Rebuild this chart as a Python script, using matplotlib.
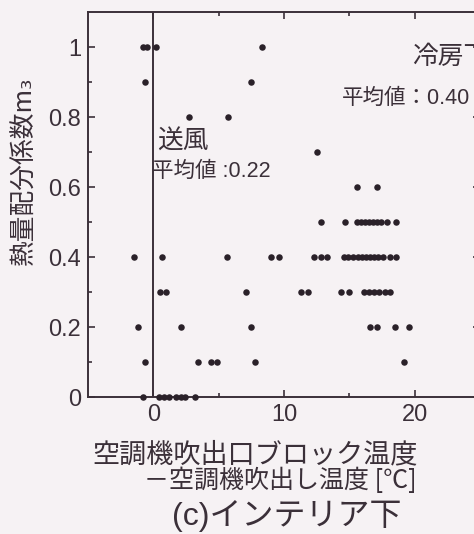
import matplotlib.pyplot as plt
import numpy as np

# temperature difference [°C] and heat distribution coefficient m3
x_10 = [-0.8, -0.5, 0.2, 8.3]
x_09 = [-0.6, 7.5]
x_08 = [2.7, 5.7]
x_07 = [12.5]
x_06 = [15.6, 17.1]
x_05 = [12.8, 14.7, 15.6, 15.9, 16.2, 16.5, 16.8, 17.1, 17.4, 17.9, 18.6]
x_04 = [-1.5, 0.7, 5.6, 9.0, 9.6, 12.3, 12.8, 13.3, 14.6, 14.9, 15.3, 15.7, 16.0,
        16.3, 16.6, 16.9, 17.2, 17.6, 18.1, 18.6]
x_03 = [0.5, 1.0, 7.1, 11.3, 11.8, 14.4, 15.0, 16.1, 16.5, 16.9, 17.3, 17.7, 18.1]
x_02 = [-1.2, 2.1, 7.5, 16.6, 17.1, 18.5, 19.6]
x_01 = [-0.6, 3.4, 4.4, 4.9, 7.8, 19.2]
x_00 = [-0.8, 0.4, 0.8, 1.2, 1.7, 2.1, 2.4, 3.2]

rows = [(1.0, x_10), (0.9, x_09), (0.8, x_08), (0.7, x_07), (0.6, x_06), (0.5, x_05),
        (0.4, x_04), (0.3, x_03), (0.2, x_02), (0.1, x_01), (0.0, x_00)]

xs = np.concatenate([np.array(r[1]) for r in rows])
ys = np.concatenate([np.full(len(r[1]), r[0]) for r in rows])

ink = '#3b3039'
bg = '#f6f2f4'
jp = ['Noto Sans CJK JP', 'DejaVu Sans']
num = ['Liberation Sans', 'Noto Sans CJK JP']

plt.rcParams['font.family'] = num
plt.rcParams['text.color'] = ink
plt.rcParams['axes.edgecolor'] = ink
plt.rcParams['xtick.color'] = ink
plt.rcParams['ytick.color'] = ink

fig = plt.figure(figsize=(4.74, 5.34), dpi=100)
fig.patch.set_facecolor(bg)
# right edge of the axes runs just past the figure, as in the cropped scan
ax = fig.add_axes([88 / 474, 1 - 397 / 534, 392 / 474, 385 / 534])
ax.set_facecolor(bg)

ax.scatter(xs, ys, s=22, color='#2a2129', zorder=3, clip_on=False, linewidths=0)
ax.axvline(0, color=ink, linewidth=1.4)

ax.set_xlim(-5, 25)
ax.set_ylim(0, 1.1)
ax.set_xticks([0, 10, 20])
ax.set_xticks([5, 15], minor=True)
ax.set_yticks([0, 0.2, 0.4, 0.6, 0.8, 1.0])
ax.set_yticklabels(['0', '0.2', '0.4', '0.6', '0.8', '1'])
ax.set_yticks([0.1, 0.3, 0.5, 0.7, 0.9], minor=True)
ax.tick_params(which='both', direction='in', top=True, right=True, width=1.2)
ax.tick_params(which='major', length=5, labelsize=17, pad=5)
ax.tick_params(which='minor', length=3)
for s in ax.spines.values():
    s.set_linewidth(1.4)

ax.text(0.3, 0.73, '送風', fontsize=18.5, family=jp, va='center')
ax.text(-0.1, 0.645, '平均値 :0.22', fontsize=15.5, family=num, va='center')
ax.text(19.8, 0.971, '冷房下', fontsize=18.5, family=jp, va='center')
ax.text(14.4, 0.854, '平均値：0.40', fontsize=15.5, family=num, va='center')

fig.text(25 / 474, 1 - 171 / 534, '熱量配分係数m₃', rotation=90, fontsize=18.5,
         family=jp, ha='center', va='center')

fig.text(92 / 474, 1 - 455 / 534, '空調機吹出口ブロック温度', fontsize=19.5,
         family=jp, ha='left', va='center')
fig.text(144 / 474, 1 - 481 / 534, '－空調機吹出し温度 [℃]', fontsize=18,
         family=jp, ha='left', va='center')
fig.text(172 / 474, 1 - 516 / 534, '(c)インテリア下', fontsize=23,
         family=num, ha='left', va='center')

fig.savefig('out.png', dpi=100, facecolor=bg)
